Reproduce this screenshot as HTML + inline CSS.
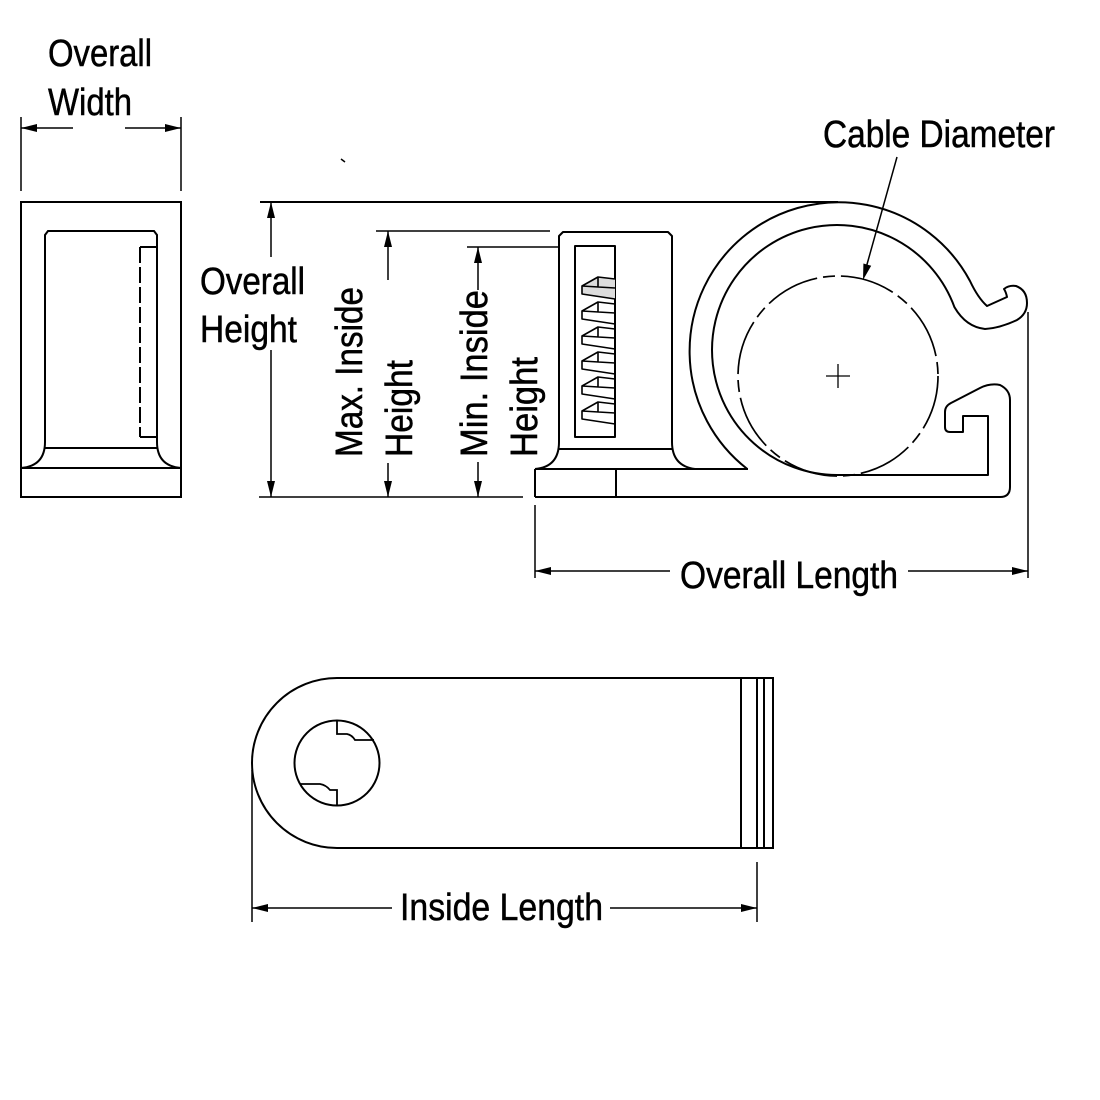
<!DOCTYPE html>
<html>
<head>
<meta charset="utf-8">
<style>
  html, body { margin:0; padding:0; background:#fff; }
  svg { display:block; }
  text { font-family: "Liberation Sans", "DejaVu Sans", sans-serif; font-size:38px; fill:#000; stroke:#000; stroke-width:0.5px; }
</style>
</head>
<body>
<svg width="1100" height="1100" viewBox="0 0 1100 1100" xmlns="http://www.w3.org/2000/svg">
  <rect width="1100" height="1100" fill="#fff"/>

  <!-- ========== LEFT END VIEW ========== -->
  <g fill="none" stroke="#000" stroke-width="2">
    <rect x="21" y="202" width="160" height="295"/>
    <line x1="21" y1="468" x2="181" y2="468"/>
    <path d="M21,468 Q45,466 45,442 L45,235 L48,231 L154,231 L157,235 L157,442 Q157,466 181,468"/>
    <line x1="45" y1="448" x2="157" y2="448"/>
    <line x1="140" y1="247" x2="157" y2="247"/>
    <line x1="140" y1="437" x2="157" y2="437"/>
    <line x1="140" y1="247" x2="140" y2="437" stroke-dasharray="16 4"/>
  </g>

  <!-- Overall Width dimension -->
  <g stroke="#000" stroke-width="1.5" fill="none">
    <line x1="21" y1="117" x2="21" y2="191"/>
    <line x1="181" y1="117" x2="181" y2="191"/>
    <line x1="21" y1="128" x2="73" y2="128"/>
    <line x1="125" y1="128" x2="181" y2="128"/>
  </g>
  <polygon points="21,128 37,124 37,132" fill="#000"/>
  <polygon points="181,128 165,124 165,132" fill="#000"/>
  <text x="48" y="66" textLength="104" lengthAdjust="spacingAndGlyphs">Overall</text>
  <text x="48" y="115" textLength="84" lengthAdjust="spacingAndGlyphs">Width</text>

  <!-- small tick -->
  <line x1="341" y1="159" x2="345" y2="162" stroke="#000" stroke-width="1.5"/>

  <!-- ========== HEIGHT DIMENSIONS ========== -->
  <g stroke="#000" stroke-width="1.5" fill="none">
    <line x1="260" y1="202" x2="838" y2="202" stroke-width="2"/>
    <line x1="259" y1="497" x2="523" y2="497"/>
    <!-- overall height -->
    <line x1="271" y1="202" x2="271" y2="257"/>
    <line x1="271" y1="350" x2="271" y2="497"/>
    <!-- max inside -->
    <line x1="376" y1="231" x2="550" y2="231"/>
    <line x1="388" y1="231" x2="388" y2="280"/>
    <line x1="388" y1="463" x2="388" y2="497"/>
    <!-- min inside -->
    <line x1="467" y1="247" x2="559" y2="247"/>
    <line x1="478" y1="247" x2="478" y2="290"/>
    <line x1="478" y1="462" x2="478" y2="497"/>
  </g>
  <g fill="#000">
    <polygon points="271,202 267,218 275,218"/>
    <polygon points="271,497 267,481 275,481"/>
    <polygon points="388,231 384,247 392,247"/>
    <polygon points="388,497 384,481 392,481"/>
    <polygon points="478,247 474,263 482,263"/>
    <polygon points="478,497 474,481 482,481"/>
  </g>
  <text x="200" y="294" textLength="105" lengthAdjust="spacingAndGlyphs">Overall</text>
  <text x="200" y="342" textLength="97" lengthAdjust="spacingAndGlyphs">Height</text>
  <text transform="translate(362,457) rotate(-90)" x="0" y="0" textLength="170" lengthAdjust="spacingAndGlyphs">Max. Inside</text>
  <text transform="translate(412,457) rotate(-90)" x="0" y="0" textLength="97" lengthAdjust="spacingAndGlyphs">Height</text>
  <text transform="translate(487,457) rotate(-90)" x="0" y="0" textLength="167" lengthAdjust="spacingAndGlyphs">Min. Inside</text>
  <text transform="translate(537,457) rotate(-90)" x="0" y="0" textLength="100" lengthAdjust="spacingAndGlyphs">Height</text>

  <!-- ========== CLAMP SIDE VIEW ========== -->
  <g fill="none" stroke="#000" stroke-width="2" stroke-linejoin="round">
    <!-- base -->
    <line x1="535" y1="469" x2="535" y2="497"/>
    <line x1="616" y1="469" x2="616" y2="497"/>
    <line x1="535" y1="469" x2="748" y2="469"/>
    <!-- post -->
    <path d="M535,469 Q559,467 559,442 L559,236 L563,232 L668,232 L672,236 L672,442 Q672,466 695,469"/>
    <line x1="559" y1="449" x2="672" y2="449"/>
    <rect x="575" y="246" width="40" height="191"/>
    <!-- band + hooks + base bottom -->
    <path d="M747.3,469 A149,149 0 1 1 970,281 Q978,298 987,306 L1007,297 Q1006,292 1004,289 Q1009,285 1016,286 Q1027,290 1027,303 Q1027,314 1017,320 Q1000,328 985,329 Q966,327 954.5,307.3 A125,125 0 1 0 837,475 L988,475 L988,416 L963,416 L963,432 L950,432 Q945,432 945,427 L945,412 Q945,406 951,403 L980,388 Q990,383 1000,385 Q1010,390 1010,400 L1010,487 Q1010,497 1000,497 L535,497"/>
  </g>
  <!-- teeth -->
  <g fill="none" stroke="#000" stroke-width="1.6" stroke-linejoin="round">
    <path d="M615,279 L598,277 L582,286 L582,294 L615,299" fill="#ddd"/>
    <path d="M582,286 L615,288 M598,277 L598,287"/>
    <path d="M615,304 L598,302 L582,311 L582,319 L615,324"/>
    <path d="M582,311 L615,313 M598,302 L598,312"/>
    <path d="M615,329 L598,327 L582,336 L582,344 L615,349"/>
    <path d="M582,336 L615,338 M598,327 L598,337"/>
    <path d="M615,354 L598,352 L582,361 L582,369 L615,374"/>
    <path d="M582,361 L615,363 M598,352 L598,362"/>
    <path d="M615,379 L598,377 L582,386 L582,394 L615,399"/>
    <path d="M582,386 L615,388 M598,377 L598,387"/>
    <path d="M615,404 L598,402 L582,411 L582,419 L615,424"/>
    <path d="M582,411 L615,413 M598,402 L598,412"/>
  </g>
  <!-- cable circle -->
  <circle cx="838" cy="376" r="100" fill="none" stroke="#000" stroke-width="1.7" stroke-dasharray="55 6 12 6"/>
  <line x1="826" y1="376" x2="850" y2="376" stroke="#000" stroke-width="1.3"/>
  <line x1="838" y1="364" x2="838" y2="388" stroke="#000" stroke-width="1.3"/>

  <!-- Cable Diameter leader -->
  <line x1="897" y1="157" x2="866" y2="268" stroke="#000" stroke-width="1.5"/>
  <polygon points="863,280 871.2,265.7 863.4,263.5" fill="#000"/>
  <text x="823" y="147" textLength="232" lengthAdjust="spacingAndGlyphs">Cable Diameter</text>

  <!-- Overall Length -->
  <g stroke="#000" stroke-width="1.5" fill="none">
    <line x1="535" y1="505" x2="535" y2="578"/>
    <line x1="1028" y1="312" x2="1028" y2="578"/>
    <line x1="535" y1="571" x2="670" y2="571"/>
    <line x1="908" y1="571" x2="1028" y2="571"/>
  </g>
  <polygon points="535,571 551,567 551,575" fill="#000"/>
  <polygon points="1028,571 1012,567 1012,575" fill="#000"/>
  <text x="680" y="588" textLength="218" lengthAdjust="spacingAndGlyphs">Overall Length</text>

  <!-- ========== BOTTOM VIEW ========== -->
  <g fill="none" stroke="#000" stroke-width="2">
    <path d="M337,678 L773,678 L773,848 L337,848 A85,85 0 0 1 337,678 Z"/>
    <line x1="741" y1="678" x2="741" y2="848"/>
    <line x1="757" y1="678" x2="757" y2="848"/>
    <line x1="764" y1="678" x2="764" y2="848"/>
    <circle cx="337" cy="763" r="42.5"/>
    <path d="M337,720.5 L337,734 L347,734 Q352,735 355,740 L374,740" stroke-width="1.8"/>
    <path d="M300,784 L320,784 Q326,785 330,790 L337,790 L337,805.5" stroke-width="1.8"/>
  </g>
  <g stroke="#000" stroke-width="1.5" fill="none">
    <line x1="252" y1="770" x2="252" y2="922"/>
    <line x1="757" y1="862" x2="757" y2="922"/>
    <line x1="252" y1="908" x2="392" y2="908"/>
    <line x1="610" y1="908" x2="757" y2="908"/>
  </g>
  <polygon points="252,908 268,904 268,912" fill="#000"/>
  <polygon points="757,908 741,904 741,912" fill="#000"/>
  <text x="400" y="920" textLength="203" lengthAdjust="spacingAndGlyphs">Inside Length</text>
</svg>
</body>
</html>
